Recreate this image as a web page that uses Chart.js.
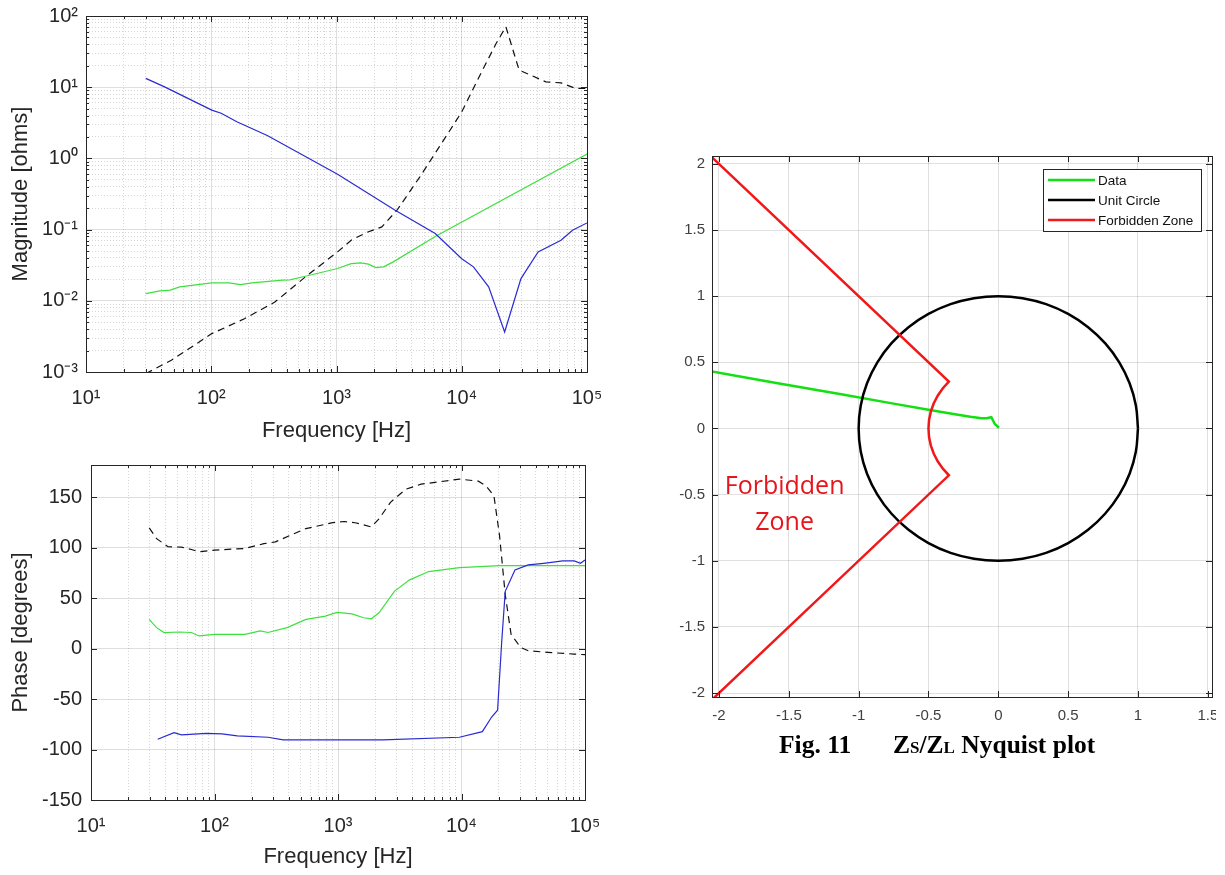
<!DOCTYPE html>
<html>
<head>
<meta charset="utf-8">
<script src="https://cdn.jsdelivr.net/npm/chart.js@4.4.0/dist/chart.umd.min.js"></script>
<style>
html,body{margin:0;padding:0;background:#fff;}
#wrap{position:relative;width:1225px;height:875px;overflow:hidden;background:#fff;}
canvas{position:absolute;left:0;top:0;}
.cap{position:absolute;top:732px;font-family:"Liberation Serif","Times New Roman",serif;font-weight:bold;font-size:25.5px;line-height:1;color:#000;white-space:nowrap;}
.cap .sc{font-size:17px;}
</style>
</head>
<body>
<div id="wrap">
  <canvas id="cMag" width="1225" height="875" style="width:1225px;height:875px"></canvas>
  <canvas id="cPhase" width="1225" height="875" style="width:1225px;height:875px"></canvas>
  <canvas id="cNyq" width="1216" height="875" style="width:1216px;height:875px"></canvas>
  <div class="cap" style="left:779px">Fig. 11</div>
  <div class="cap" style="left:893px">Z<span class="sc">S</span>/Z<span class="sc">L</span> Nyquist plot</div>
</div>
<script>
// ---------------- Magnitude plot data (frequency in Hz, magnitude in ohms) ----------------
const magBlueFreq  = [30, 42, 101, 120, 160, 280, 1020, 2940, 6140, 10000, 12400, 16400, 22000, 29700, 40700, 62000, 76600, 100000];
const magBlue      = [13.3, 10.2, 4.77, 4.3, 3.27, 2.1, 0.60, 0.187, 0.088, 0.039, 0.030, 0.0157, 0.00365, 0.0205, 0.0487, 0.071, 0.098, 0.124];
const magGreenFreq = [30, 39, 47, 56, 101, 139, 171, 211, 371, 424, 565, 1020, 1310, 1560, 1800, 2060, 2380, 2840, 6140, 100000];
const magGreen     = [0.0126, 0.0138, 0.0141, 0.0157, 0.0178, 0.0178, 0.0169, 0.0178, 0.0195, 0.0197, 0.0221, 0.0284, 0.0333, 0.034, 0.0327, 0.0293, 0.030, 0.0352, 0.08, 1.15];
const magBlackFreq = [30, 48, 101, 184, 322, 565, 1020, 1310, 1740, 2300, 3040, 4630, 6630, 10000, 14200, 18800, 22500, 28700, 46900, 62000, 81500, 100000];
const magBlack     = [0.00095, 0.00146, 0.00346, 0.0056, 0.0096, 0.0217, 0.0487, 0.071, 0.091, 0.109, 0.187, 0.55, 1.46, 4.5, 15.6, 41, 70.8, 17.4, 11.9, 11.5, 9.6, 9.6];

// ---------------- Phase plot data (frequency in Hz, phase in degrees) ----------------
const phBlackFreq = [29.6, 34, 42, 54, 65, 75, 100, 176, 251, 311, 550, 906, 1120, 1380, 1860, 2150, 2660, 3540, 4710, 9620, 13700, 15850, 18300, 20330, 22600, 25200, 30100, 34700, 49700, 81800, 100000];
const phBlack     = [119.6, 109, 101, 100.6, 98.3, 96, 97.7, 99.3, 104, 105.8, 119, 124.8, 126, 124.8, 120.6, 128.7, 145, 158, 163, 168, 166, 161, 151.6, 112, 53.5, 14.2, 1.2, -2.1, -3.7, -5.4, -6];
const phGreenFreq = [29.6, 34, 39, 52, 65, 75, 100, 176, 235, 271, 387, 550, 790, 980, 1300, 1610, 1860, 2150, 2860, 3800, 5430, 9620, 20500, 100000];
const phGreen     = [29, 20.8, 15.9, 16.5, 16, 12.6, 14.2, 14.2, 17.5, 16, 20.8, 29, 32.2, 36, 34.5, 30.6, 29.6, 35.5, 56.8, 68.2, 76.4, 80.3, 82.3, 82.3];
const phBlueFreq  = [34.7, 47, 54, 86, 115, 153, 271, 360, 980, 2300, 9620, 14750, 17600, 19600, 21100, 22600, 27100, 34700, 46200, 66100, 81800, 92000, 100000];
const phBlue      = [-89.8, -83.2, -85.5, -83.9, -84.5, -86.5, -87.8, -90.4, -90.4, -90.4, -87.8, -82.3, -67.5, -61, 4.4, 56.8, 78, 83, 84.6, 86.9, 86.9, 84.6, 87.9];

// ---------------- Nyquist plot data (real, imaginary) ----------------
const nyqDataRe = [-2.06, -1.6, -1.135, -0.75, -0.49, -0.3, -0.2, -0.12, -0.084, -0.05, -0.025, 0.005];
const nyqDataIm = [0.432, 0.346, 0.26, 0.188, 0.14, 0.105, 0.088, 0.078, 0.077, 0.085, 0.034, 0.006];
const unitCircleRe = [1, 0.985, 0.94, 0.866, 0.766, 0.643, 0.5, 0.342, 0.174, 0, -0.174, -0.342, -0.5, -0.643, -0.766, -0.866, -0.94, -0.985, -1, -0.985, -0.94, -0.866, -0.766, -0.643, -0.5, -0.342, -0.174, 0, 0.174, 0.342, 0.5, 0.643, 0.766, 0.866, 0.94, 0.985, 1];
const unitCircleIm = [0, 0.174, 0.342, 0.5, 0.643, 0.766, 0.866, 0.94, 0.985, 1, 0.985, 0.94, 0.866, 0.766, 0.643, 0.5, 0.342, 0.174, 0, -0.174, -0.342, -0.5, -0.643, -0.766, -0.866, -0.94, -0.985, -1, -0.985, -0.94, -0.866, -0.766, -0.643, -0.5, -0.342, -0.174, 0];
const forbidRe = [-2.06, -0.354, -0.397, -0.433, -0.462, -0.483, -0.496, -0.5, -0.496, -0.483, -0.462, -0.433, -0.397, -0.354, -2.06];
const forbidIm = [2.06, 0.354, 0.304, 0.25, 0.191, 0.129, 0.065, 0, -0.065, -0.129, -0.191, -0.25, -0.304, -0.354, -2.06];
const nyqLabels = ['Data', 'Unit Circle', 'Forbidden Zone'];
const zoneText = ['Forbidden', 'Zone'];
const zoneTextPos = {x: -1.53, y1: -0.44, y2: -0.71};

// ---------------- axis labels ----------------
const freqTitle = 'Frequency [Hz]';
const magTitle = 'Magnitude [ohms]';
const phaseTitle = 'Phase [degrees]';

const FONT = '"Liberation Sans", Arial, Helvetica, sans-serif';
const TXT = '#262626';
Chart.defaults.font.family = FONT;
Chart.defaults.animation = false;

const pts = (xs, ys) => xs.map((x, i) => ({x: x, y: ys[i]}));
const SUP = {'0':'\u2070','1':'\u00B9','2':'\u00B2','3':'\u00B3','4':'\u2074','5':'\u2075','-':'\u207B'};
function isDecade(v){ const e = Math.log10(v); return Math.abs(e - Math.round(e)) < 1e-6; }
function intMantissa(v){ const e = Math.floor(Math.log10(v) + 1e-9); const m = v / Math.pow(10, e); return Math.abs(m - Math.round(m)) < 1e-6; }
function decadeLabel(v){ if (!isDecade(v)) return ''; const r = Math.round(Math.log10(v)); return '10' + String(r).split('').map(c => SUP[c]).join(''); }

const matlabBox = {
  id: 'matlabBox',
  afterDraw(chart, args, opts) {
    const {ctx, chartArea: a, scales} = chart;
    const xs = scales.x, ys = scales.y;
    ctx.save();
    ctx.strokeStyle = '#262626';
    ctx.lineWidth = 1;
    ctx.beginPath();
    xs.ticks.forEach(t => {
      const major = opts.logX ? isDecade(t.value) : true;
      const L = major ? 6 : 3;
      const px = Math.round(xs.getPixelForValue(t.value)) + 0.5;
      ctx.moveTo(px, a.bottom); ctx.lineTo(px, a.bottom - L);
      ctx.moveTo(px, a.top); ctx.lineTo(px, a.top + L);
    });
    ys.ticks.forEach(t => {
      const major = opts.logY ? isDecade(t.value) : true;
      const L = major ? 6 : 3;
      const py = Math.round(ys.getPixelForValue(t.value)) + 0.5;
      ctx.moveTo(a.left, py); ctx.lineTo(a.left + L, py);
      ctx.moveTo(a.right, py); ctx.lineTo(a.right - L, py);
    });
    ctx.stroke();
    ctx.strokeRect(Math.round(a.left) + 0.5, Math.round(a.top) + 0.5, Math.round(a.right - a.left), Math.round(a.bottom - a.top));
    ctx.restore();
  }
};

function logAxis(min, max, fixed, isX, title, titlePad) {
  return {
    type: 'logarithmic', min: min, max: max,
    afterBuildTicks: s => { s.ticks = s.ticks.filter(t => intMantissa(t.value)); },
    afterFit: s => {
      if (isX) { s.height = fixed; s.paddingLeft = 0; s.paddingRight = 0; }
      else { s.width = fixed; s.paddingTop = 0; s.paddingBottom = 0; }
    },
    grid: {
      drawTicks: false,
      lineWidth: 1,
      color: c => (c.tick && !isDecade(c.tick.value)) ? 'rgba(0,0,0,0.16)' : 'rgba(0,0,0,0.13)'
    },
    border: {
      display: false,
      dash: c => (c.type === 'tick' && c.tick && !isDecade(c.tick.value)) ? [1, 2] : []
    },
    ticks: {
      autoSkip: false, maxRotation: 0, minRotation: 0,
      padding: isX ? 14 : 8,
      color: TXT, font: {size: 20},
      callback: v => decadeLabel(v)
    },
    title: {display: true, text: title, color: TXT, font: {size: 22}, padding: titlePad}
  };
}

// ---------------- Magnitude chart ----------------
new Chart(document.getElementById('cMag'), {
  type: 'scatter',
  data: {
    datasets: [
      {data: pts(magBlueFreq, magBlue), borderColor: '#2a2ad2', borderWidth: 1.2, showLine: true, pointRadius: 0},
      {data: pts(magGreenFreq, magGreen), borderColor: '#3ee03e', borderWidth: 1.2, showLine: true, pointRadius: 0},
      {data: pts(magBlackFreq, magBlack), borderColor: '#111', borderWidth: 1.2, borderDash: [7, 5], showLine: true, pointRadius: 0}
    ]
  },
  options: {
    responsive: false, animation: false,
    layout: {padding: {left: 0, top: 16, right: 638, bottom: 431}},
    plugins: {legend: {display: false}, tooltip: {enabled: false}, matlabBox: {logX: true, logY: true}},
    scales: {
      x: logAxis(10, 100000, 72, true, freqTitle, {top: 0, bottom: 0}),
      y: logAxis(0.001, 100, 86, false, magTitle, {top: 8, bottom: 0})
    }
  },
  plugins: [matlabBox]
});

// ---------------- Phase chart ----------------
new Chart(document.getElementById('cPhase'), {
  type: 'scatter',
  data: {
    datasets: [
      {data: pts(phBlueFreq, phBlue), borderColor: '#2a2ad2', borderWidth: 1.2, showLine: true, pointRadius: 0},
      {data: pts(phGreenFreq, phGreen), borderColor: '#3ee03e', borderWidth: 1.2, showLine: true, pointRadius: 0},
      {data: pts(phBlackFreq, phBlack), borderColor: '#111', borderWidth: 1.2, borderDash: [7, 5], showLine: true, pointRadius: 0}
    ]
  },
  options: {
    responsive: false, animation: false,
    layout: {padding: {left: 0, top: 465, right: 640, bottom: 5}},
    plugins: {legend: {display: false}, tooltip: {enabled: false}, matlabBox: {logX: true, logY: false}},
    scales: {
      x: logAxis(10, 100000, 70, true, freqTitle, {top: 0, bottom: 0}),
      y: {
        type: 'linear', min: -150, max: 182,
        afterFit: s => { s.width = 91; s.paddingTop = 0; s.paddingBottom = 0; },
        grid: {drawTicks: false, color: 'rgba(0,0,0,0.13)'},
        border: {display: false},
        ticks: {stepSize: 50, includeBounds: false, padding: 9, color: TXT, font: {size: 20}},
        title: {display: true, text: phaseTitle, color: TXT, font: {size: 22}, padding: {top: 8, bottom: 0}}
      }
    }
  },
  plugins: [matlabBox]
});

// ---------------- Nyquist chart ----------------
const nyqExtras = {
  id: 'nyqExtras',
  afterDatasetsDraw(chart) {
    const {ctx, scales: {x, y}} = chart;
    ctx.save();
    ctx.fillStyle = '#e8141c';
    ctx.font = '25px "Open Sans", "Liberation Sans", sans-serif';
    ctx.textAlign = 'center';
    ctx.textBaseline = 'middle';
    ctx.fillText(zoneText[0], x.getPixelForValue(zoneTextPos.x), y.getPixelForValue(zoneTextPos.y1));
    ctx.fillText(zoneText[1], x.getPixelForValue(zoneTextPos.x), y.getPixelForValue(zoneTextPos.y2));
    ctx.restore();
  },
  afterDraw(chart) {
    const {ctx, chartArea: a} = chart;
    const ds = chart.data.datasets;
    const right = Math.round(a.right) - 11, top = Math.round(a.top) + 13;
    const w = 158, h = 62;
    const left = right - w;
    ctx.save();
    ctx.fillStyle = '#fff';
    ctx.fillRect(left, top, w, h);
    ctx.strokeStyle = '#262626';
    ctx.lineWidth = 1;
    ctx.strokeRect(left + 0.5, top + 0.5, w, h);
    ctx.font = '13.5px ' + FONT;
    ctx.textBaseline = 'middle';
    ctx.textAlign = 'left';
    ds.forEach((d, i) => {
      const yy = top + 11 + i * 20;
      ctx.strokeStyle = d.borderColor;
      ctx.lineWidth = 2.5;
      ctx.beginPath(); ctx.moveTo(left + 5, yy); ctx.lineTo(left + 52, yy); ctx.stroke();
      ctx.fillStyle = '#111';
      ctx.fillText(d.label, left + 55, yy + 1);
    });
    ctx.restore();
  }
};

new Chart(document.getElementById('cNyq'), {
  type: 'scatter',
  data: {
    datasets: [
      {label: nyqLabels[0], data: pts(nyqDataRe, nyqDataIm), borderColor: '#12e012', borderWidth: 2.5, showLine: true, pointRadius: 0, order: 2},
      {label: nyqLabels[1], data: pts(unitCircleRe, unitCircleIm), borderColor: '#000', borderWidth: 2.5, showLine: true, pointRadius: 0, tension: 0.4, order: 1},
      {label: nyqLabels[2], data: pts(forbidRe, forbidIm), borderColor: '#f01818', borderWidth: 2.5, showLine: true, pointRadius: 0, order: 0}
    ]
  },
  options: {
    responsive: false, animation: false,
    layout: {padding: {left: 662, top: 156, right: 4, bottom: 138}},
    plugins: {legend: {display: false}, tooltip: {enabled: false}, matlabBox: {logX: false, logY: false}},
    scales: {
      x: {
        type: 'linear', min: -2.05, max: 1.53,
        afterFit: s => { s.height = 40; s.paddingLeft = 0; s.paddingRight = 0; },
        grid: {drawTicks: false, color: 'rgba(0,0,0,0.12)'},
        border: {display: false},
        ticks: {stepSize: 0.5, includeBounds: false, padding: 10, color: '#404040', font: {size: 15}, maxRotation: 0, autoSkip: false,
                callback: v => String(Math.round(v * 10) / 10)}
      },
      y: {
        type: 'linear', min: -2.03, max: 2.06,
        afterFit: s => { s.width = 50; s.paddingTop = 0; s.paddingBottom = 0; },
        grid: {drawTicks: false, color: 'rgba(0,0,0,0.12)'},
        border: {display: false},
        ticks: {stepSize: 0.5, includeBounds: false, padding: 7, color: '#404040', font: {size: 15}, autoSkip: false,
                callback: v => String(Math.round(v * 10) / 10)}
      }
    }
  },
  plugins: [matlabBox, nyqExtras]
});
</script>
</body>
</html>
